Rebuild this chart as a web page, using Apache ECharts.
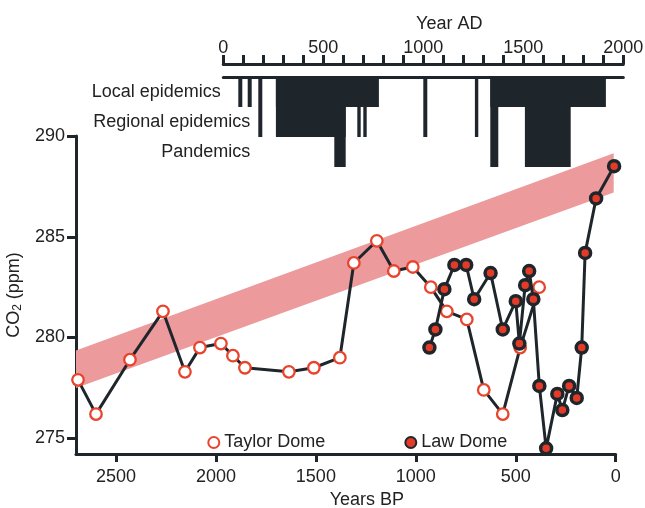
<!DOCTYPE html>
<html>
<head>
<meta charset="utf-8">
<script src="https://cdn.jsdelivr.net/npm/echarts@6/dist/echarts.min.js"></script>
<style>html,body{margin:0;padding:0;background:#fff}#c{width:645px;height:508px}</style>
</head>
<body>
<div id="c"></div>
<script>
// ---- Data ----
var tdBP  = [2690, 2600, 2430, 2265, 2155, 2080, 1975, 1915, 1855, 1635, 1510, 1380, 1310, 1195, 1110, 1015, 925, 845, 745, 660, 565, 478, 383];
var tdCO2 = [277.9, 276.2, 278.9, 281.3, 278.3, 279.5, 279.7, 279.1, 278.5, 278.3, 278.5, 279.0, 283.7, 284.8, 283.3, 283.5, 282.5, 281.3, 280.9, 277.4, 276.2, 279.5, 282.5];
var ldBP  = [932, 902, 857, 807, 748, 708, 626, 565, 500, 482, 453, 433, 412, 382, 348, 292, 267, 233, 195, 170, 153, 98, 8];
var ldCO2 = [279.5, 280.4, 282.4, 283.6, 283.6, 281.9, 283.2, 280.4, 281.8, 279.7, 282.6, 283.3, 281.9, 277.6, 274.5, 277.2, 276.4, 277.6, 277.0, 279.5, 284.2, 286.9, 288.5];
var bandBP   = [2700, 10];
var bandLow  = [277.5, 287.2];
var bandHigh = [279.35, 289.15];
var epiRows  = ['Local epidemics', 'Regional epidemics', 'Pandemics'];
var epiStart = [75, 122, 175, 263, 263, 555, 670, 700, 1000, 1258, 1335, 1335, 1508];
var epiEnd   = [95, 142, 195, 778, 612, 612, 687, 717, 1020, 1275, 1913, 1375, 1737];
var epiLevel = ['Local epidemics', 'Local epidemics', 'Regional epidemics', 'Local epidemics', 'Regional epidemics', 'Pandemics', 'Regional epidemics', 'Regional epidemics', 'Regional epidemics', 'Regional epidemics', 'Local epidemics', 'Pandemics', 'Pandemics'];
var bpTicks  = [0, 500, 1000, 1500, 2000, 2500];
var co2Ticks = [275, 280, 285, 290];
var adLabels = [0, 500, 1000, 1500, 2000];

var DARK = '#1F262B';
var FONT = 'Liberation Sans';
var chart = echarts.init(document.getElementById('c'));

var tdData = tdBP.map(function (b, i) { return [b, tdCO2[i]]; });
var ldData = ldBP.map(function (b, i) { return [b, ldCO2[i]]; });
var epiData = epiStart.map(function (s, i) { return [s, epiEnd[i], epiLevel[i]]; });
var bandData = bandBP.map(function (b, i) { return [b, bandLow[i], bandHigh[i]]; });
function plain(v) { return String(v); }

chart.setOption({
  animation: false,
  textStyle: { fontFamily: FONT, color: '#222' },
  grid: [
    { left: 76, right: 29.3, top: 136, bottom: 54, containLabel: false, outerBoundsMode: 'none' },
    { left: 223.3, right: 21.7, top: 77, height: 90, containLabel: false, outerBoundsMode: 'none' }
  ],
  legend: {
    left: 202.3, top: 428.5, itemWidth: 11, itemHeight: 11, itemGap: 79,
    selectedMode: false,
    textStyle: { fontSize: 18, fontFamily: FONT, color: '#222' },
    data: [{ name: 'Taylor Dome', icon: 'circle' }, { name: 'Law Dome', icon: 'circle' }]
  },
  xAxis: [
    {
      gridIndex: 0, type: 'value', min: 0, max: 2700, inverse: true, position: 'bottom',
      axisLine: { onZero: false, lineStyle: { color: DARK, width: 3 } },
      axisTick: { length: 8, lineStyle: { color: DARK, width: 3 }, customValues: bpTicks },
      axisLabel: { fontSize: 18, color: '#222', margin: 14, customValues: bpTicks, formatter: plain },
      splitLine: { show: false },
      name: 'Years BP', nameLocation: 'middle', nameGap: 37,
      nameTextStyle: { fontSize: 18, color: '#222', padding: [0, 0, 0, 42] }
    },
    {
      gridIndex: 1, type: 'value', min: 0, max: 2000, interval: 100, position: 'top', offset: 13,
      axisLine: { show: true, onZero: false, lineStyle: { color: DARK, width: 3 } },
      axisTick: { show: true, length: 9, lineStyle: { color: DARK, width: 3 } },
      axisLabel: { fontSize: 18, color: '#222', margin: 7, customValues: adLabels, formatter: plain },
      splitLine: { show: false },
      name: 'Year AD', nameLocation: 'middle', nameGap: 31,
      nameTextStyle: { fontSize: 18, color: '#222', padding: [0, 0, 0, 52] }
    },
    {
      gridIndex: 1, type: 'value', min: 0, max: 2000, position: 'top', offset: 0,
      axisLine: { show: true, onZero: false, lineStyle: { color: DARK, width: 3 } },
      axisTick: { show: false }, axisLabel: { show: false }, splitLine: { show: false }
    }
  ],
  yAxis: [
    {
      gridIndex: 0, type: 'value', min: 274.22, max: 290, position: 'left',
      axisLine: { show: true, onZero: false, lineStyle: { color: DARK, width: 3 } },
      axisTick: { show: true, length: 9, lineStyle: { color: DARK, width: 3 }, customValues: co2Ticks },
      axisLabel: { fontSize: 18, color: '#222', margin: 11, customValues: co2Ticks, formatter: plain },
      splitLine: { show: false },
      name: 'CO{sub|2} (ppm)', nameLocation: 'middle', nameGap: 47,
      nameTextStyle: { fontSize: 18, color: '#222', rich: { sub: { fontSize: 12, padding: [9, 0, 0, 0], color: '#222' } } }
    },
    {
      gridIndex: 1, type: 'category', inverse: true, data: epiRows,
      axisLine: { show: false }, axisTick: { show: false }, splitLine: { show: false },
      axisLabel: {
        fontSize: 18, color: '#222', margin: -27,
        formatter: function (v) { return v === 'Local epidemics' ? '{loc|' + v + '}' : v; },
        rich: { loc: { fontSize: 18, color: '#222', padding: [0, 29.5, 0, 0] } }
      }
    }
  ],
  series: [
    {
      type: 'custom', xAxisIndex: 0, yAxisIndex: 0, z: 1, silent: true,
      data: bandData,
      renderItem: function (params, api) {
        if (params.dataIndex !== 0) return null;
        var pts = [];
        for (var i = 0; i < bandBP.length; i++) pts.push(api.coord([bandBP[i], bandHigh[i]]));
        for (var j = bandBP.length - 1; j >= 0; j--) pts.push(api.coord([bandBP[j], bandLow[j]]));
        return { type: 'polygon', shape: { points: pts }, style: { fill: '#EC9A9C' } };
      }
    },
    {
      name: 'Taylor Dome', type: 'line', xAxisIndex: 0, yAxisIndex: 0, z: 3, clip: false,
      data: tdData, symbol: 'circle', symbolSize: 11.5,
      lineStyle: { color: DARK, width: 3 },
      itemStyle: { color: '#ffffff', borderColor: '#E8442D', borderWidth: 2.3 }
    },
    {
      name: 'Law Dome', type: 'line', xAxisIndex: 0, yAxisIndex: 0, z: 4, clip: false,
      data: ldData, symbol: 'circle', symbolSize: 11,
      lineStyle: { color: DARK, width: 3 },
      itemStyle: { color: '#E23B28', borderColor: DARK, borderWidth: 3.5 }
    },
    {
      type: 'custom', xAxisIndex: 1, yAxisIndex: 1, z: 2, silent: true,
      data: epiData,
      encode: { x: [0, 1], y: 2 },
      renderItem: function (params, api) {
        var s = api.value(0), e = api.value(1), lvl = api.value(2);
        var bandH = api.size([0, 1])[1];
        var top = api.coord([s, 0])[1] - bandH / 2;
        var bottom = api.coord([s, lvl])[1] + bandH / 2;
        var x0 = api.coord([s, 0])[0], x1 = api.coord([e, 0])[0];
        return { type: 'rect', shape: { x: x0, y: top, width: x1 - x0, height: bottom - top }, style: { fill: DARK } };
      }
    }
  ]
});
</script>
</body>
</html>
